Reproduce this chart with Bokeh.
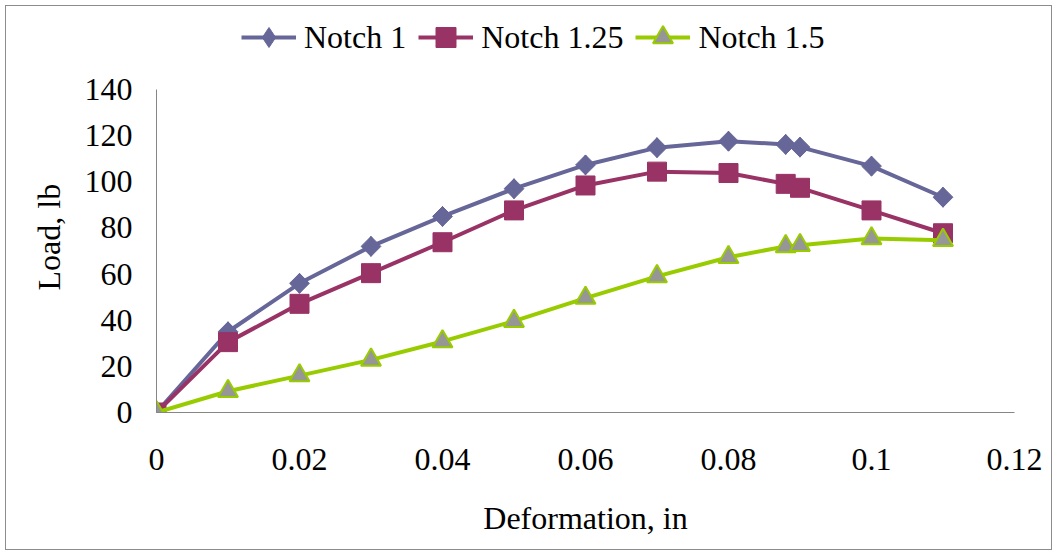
from bokeh.plotting import figure
from bokeh.models import (Legend, LegendItem, FixedTicker, Range1d, Title)
from bokeh.layouts import column
from bokeh.embed import file_html
from bokeh.resources import INLINE
import math

# ---- data ----
deformation = [0, 0.01, 0.02, 0.03, 0.04, 0.05, 0.06, 0.07, 0.08, 0.088, 0.09, 0.10, 0.11]
notch_1 = [0, 35, 56, 72, 85, 97, 107.3, 114.8, 117.6, 116.2, 115.0, 106.8, 93.3]
notch_125 = [0, 30.5, 47.1, 60.4, 73.8, 87.6, 98.4, 104.4, 103.8, 99.1, 97.4, 87.6, 77.7]
notch_15 = [0, 9.2, 16.0, 22.8, 30.8, 39.6, 49.6, 59.0, 67.3, 72.0, 72.5, 75.4, 74.7]
series_names = ["Notch 1", "Notch 1.25", "Notch 1.5"]
x_ticks = [0, 0.02, 0.04, 0.06, 0.08, 0.10, 0.12]
x_tick_labels = ["0", "0.02", "0.04", "0.06", "0.08", "0.1", "0.12"]
y_ticks = [0, 20, 40, 60, 80, 100, 120, 140]
y_tick_labels = ["0", "20", "40", "60", "80", "100", "120", "140"]
x_title = "Deformation, in"
y_title = "Load, lb"

FONT = "Liberation Serif"
FS = "32px"

# layout (pixels): figure sits inside a 1px border with a 5px margin
FRAME_H = 406          # frame spans from figure top to the x axis
AXIS_H = 323           # pixel height used by the 0..140 y axis
y_top = y_ticks[-1] * FRAME_H / AXIS_H

p = figure(width=1045, height=543, output_backend="svg", toolbar_location=None,
           x_range=Range1d(x_ticks[0], x_ticks[-1]), y_range=Range1d(0, y_top),
           min_border_left=150, min_border_right=37, min_border_top=0, min_border_bottom=137)
p.outline_line_color = None
p.xgrid.visible = False
p.ygrid.visible = False
p.background_fill_color = "white"
p.border_fill_color = "white"

for ax, ticks, labels in ((p.xaxis[0], x_ticks, x_tick_labels), (p.yaxis[0], y_ticks, y_tick_labels)):
    ax.ticker = FixedTicker(ticks=ticks)
    ax.major_label_overrides = {t: l for t, l in zip(ticks, labels)}
    ax.major_tick_line_color = None
    ax.minor_tick_line_color = None
    ax.axis_line_color = "#868686"
    ax.axis_line_width = 1
    ax.major_label_text_font = FONT
    ax.major_label_text_font_size = FS
    ax.major_label_text_color = "black"
    ax.axis_label_text_font = FONT
    ax.axis_label_text_font_size = FS
    ax.axis_label_text_font_style = "normal"
    ax.axis_label_text_color = "black"

p.yaxis.bounds = (y_ticks[0], y_ticks[-1])
p.xaxis.axis_label = x_title
p.xaxis.major_label_standoff = 30
p.yaxis.major_label_standoff = 18
p.xaxis.axis_label_standoff = 27

ytitle = Title(text=y_title, align="left", offset=122, standoff=30,
               text_font=FONT, text_font_size=FS, text_font_style="normal",
               text_color="black")
p.add_layout(ytitle, "left")

c1, c2, c3, c3f = "#666699", "#993366", "#99CC00", "#969696"
LW = 4

l1 = p.line(deformation, notch_1, line_color=c1, line_width=LW)
m1_leg = p.scatter(deformation, notch_1, marker="diamond", size=20,
                   fill_color=c1, line_color=c1, line_width=1)
m1 = p.scatter(deformation, notch_1, marker="square", size=14, angle=math.pi / 4,
               fill_color=c1, line_color=c1, line_width=1)
l2 = p.line(deformation, notch_125, line_color=c2, line_width=LW)
m2 = p.scatter(deformation, notch_125, marker="square", size=19,
               fill_color=c2, line_color=c2, line_width=1)
l3 = p.line(deformation, notch_15, line_color=c3, line_width=LW)
m3 = p.scatter(deformation, notch_15, marker="triangle", size=20,
               fill_color=c3f, line_color=c3, line_width=2)

legend = Legend(items=[
    LegendItem(label=series_names[0], renderers=[l1, m1_leg]),
    LegendItem(label=series_names[1], renderers=[l2, m2]),
    LegendItem(label=series_names[2], renderers=[l3, m3]),
], orientation="horizontal", location=(85, 350))
legend.label_text_font = FONT
legend.label_text_font_size = FS
legend.label_text_color = "black"
legend.glyph_width = 55
legend.glyph_height = 50
legend.label_height = 50
legend.label_standoff = 8
legend.spacing = 12
legend.padding = 0
legend.margin = 0
legend.border_line_color = None
legend.background_fill_alpha = 0
p.add_layout(legend, "center")

layout = column(p, styles={"border": "1px solid #8c8c8c", "margin": "5px"})

open("out.html", "w").write(file_html(layout, INLINE))
